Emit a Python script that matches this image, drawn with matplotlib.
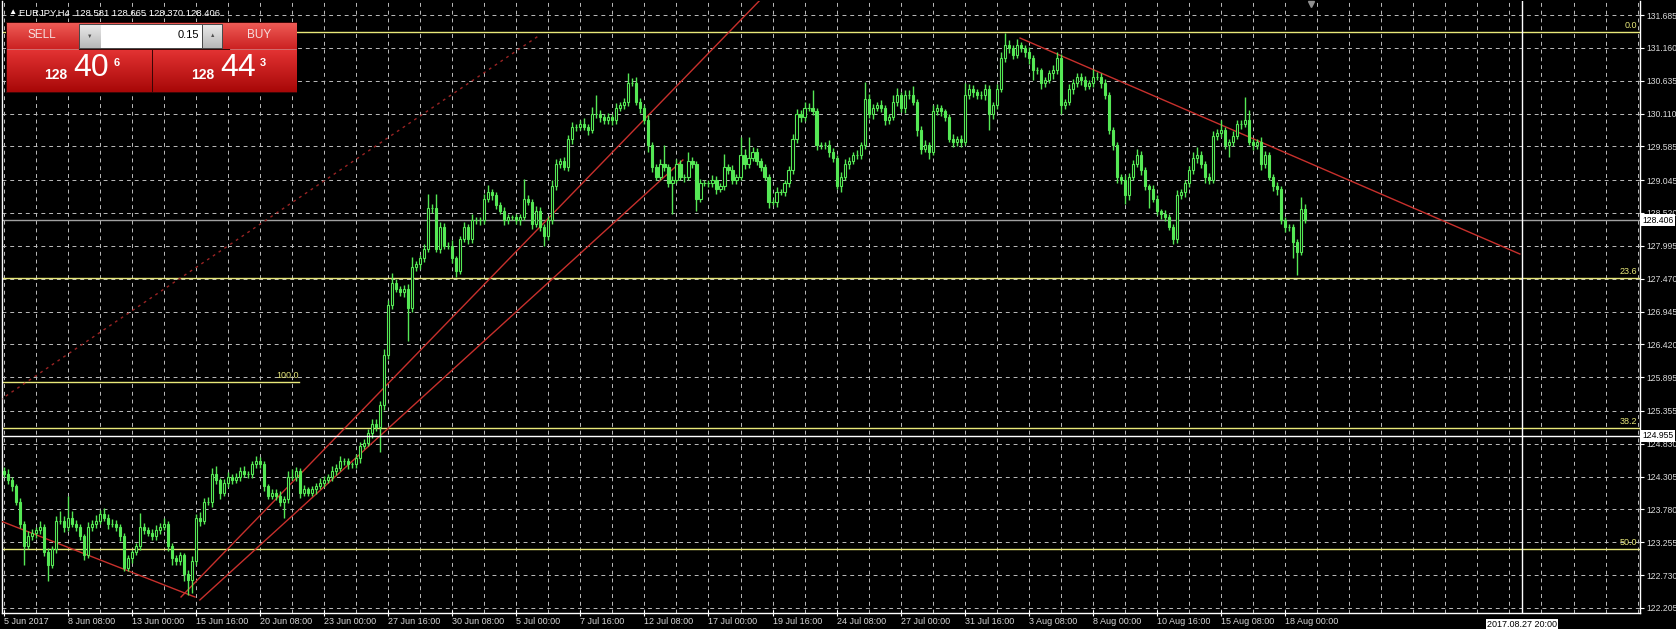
import numpy as np
import matplotlib.pyplot as plt
from matplotlib.transforms import blended_transform_factory

# EURJPY H4, one value per 4h bar (bar 0 = left edge of the chart)
first_open = 124.40
closes = [
    124.35, 124.25, 124.15, 123.90, 123.55, 123.20, 123.35, 123.40, 123.45, 123.50,
    123.10, 122.90, 123.15, 123.60, 123.60, 123.50, 123.65, 123.55, 123.50, 123.35,
    123.05, 123.50, 123.55, 123.60, 123.70, 123.65, 123.55, 123.55, 123.50, 123.35,
    122.85, 123.00, 123.10, 123.20, 123.50, 123.45, 123.40, 123.35, 123.45, 123.50,
    123.55, 123.20, 123.00, 122.95, 123.05, 122.75, 122.65, 122.95, 123.65, 123.60,
    123.90, 123.90, 124.35, 124.25, 124.05, 124.20, 124.30, 124.25, 124.30, 124.40,
    124.35, 124.35, 124.50, 124.55, 124.50, 124.15, 124.00, 124.05, 124.00, 123.90,
    123.95, 124.30, 124.30, 124.40, 124.05, 124.10, 124.05, 124.10, 124.15, 124.20,
    124.25, 124.30, 124.40, 124.45, 124.55, 124.55, 124.50, 124.50, 124.60, 124.80,
    124.85, 125.00, 125.15, 125.10, 125.45, 126.25, 127.05, 127.40, 127.30, 127.25,
    127.30, 127.00, 127.65, 127.70, 127.80, 127.95, 128.60, 128.60, 127.95, 128.30,
    128.00, 128.00, 127.80, 127.60, 128.10, 128.30, 128.10, 128.40, 128.40, 128.40,
    128.75, 128.85, 128.80, 128.65, 128.55, 128.40, 128.45, 128.45, 128.40, 128.45,
    128.75, 128.70, 128.35, 128.55, 128.30, 128.15, 128.40, 128.95, 129.30, 129.35,
    129.25, 129.70, 129.90, 129.90, 129.95, 129.90, 129.85, 130.10, 130.10, 130.05,
    130.00, 130.05, 130.00, 130.20, 130.25, 130.30, 130.60, 130.60, 130.30, 130.20,
    130.00, 129.60, 129.25, 129.10, 129.30, 129.25, 129.00, 129.05, 129.30, 129.10,
    129.10, 129.35, 129.30, 128.75, 129.00, 129.00, 129.00, 129.05, 128.90, 128.95,
    129.25, 129.20, 129.05, 129.10, 129.45, 129.30, 129.40, 129.50, 129.35, 129.25,
    129.10, 128.70, 128.70, 128.85, 128.85, 129.00, 129.20, 129.70, 130.10, 130.05,
    130.20, 130.20, 130.15, 129.60, 129.60, 129.60, 129.50, 129.40, 128.95, 129.10,
    129.30, 129.35, 129.45, 129.45, 129.60, 130.35, 130.10, 130.20, 130.25, 130.20,
    130.00, 130.05, 130.30, 130.40, 130.20, 130.40, 130.40, 130.30, 129.85, 129.55,
    129.60, 129.50, 130.15, 130.20, 130.15, 130.05, 129.70, 129.65, 129.70, 129.65,
    130.40, 130.50, 130.45, 130.40, 130.40, 130.50, 130.10, 130.25, 130.50, 131.00,
    131.20, 131.15, 131.05, 131.20, 131.15, 131.10, 131.00, 130.80, 130.80, 130.60,
    130.65, 130.75, 130.80, 131.00, 130.25, 130.30, 130.50, 130.60, 130.70, 130.65,
    130.55, 130.60, 130.70, 130.70, 130.60, 130.40, 129.85, 129.60, 129.10, 129.05,
    128.80, 129.10, 129.30, 129.45, 129.20, 128.95, 128.90, 128.75, 128.55, 128.50,
    128.45, 128.30, 128.10, 128.80, 128.85, 129.00, 129.20, 129.40, 129.45, 129.30,
    129.10, 129.05, 129.75, 129.80, 129.85, 129.60, 129.65, 129.75, 129.95, 129.95,
    130.00, 129.65, 129.60, 129.65, 129.30, 129.45, 129.10, 128.95, 128.90, 128.40,
    128.30, 128.30, 128.05, 127.90, 128.581, 128.406,
]
# upper / lower shadow length in hundredths of a yen
hi_ext = [
    6, 8, 5, 4, 6, 5, 8, 7, 5, 9,    4, 6, 5, 8, 16, 7, 35, 10, 6, 5,
    4, 8, 6, 9, 7, 10, 5, 8, 6, 4,   5, 6, 4, 5, 23, 6, 5, 7, 8, 6,
    10, 4, 5, 6, 5, 4, 6, 8, 5, 9,   6, 8, 10, 12, 4, 6, 8, 5, 7, 6,
    8, 5, 6, 9, 7, 5, 4, 6, 5, 7,    5, 10, 12, 6, 5, 7, 4, 6, 5, 8,
    6, 5, 7, 6, 8, 5, 6, 4, 7, 6,    5, 6, 8, 7, 6, 10, 8, 16, 6, 5,
    7, 9, 16, 6, 5, 8, 23, 6, 23, 7, 6, 5, 9, 4, 6, 8, 5, 10, 6, 5,
    8, 12, 6, 5, 4, 6, 5, 4, 6, 5,   32, 6, 5, 8, 6, 4, 7, 10, 8, 5,
    6, 7, 8, 5, 6, 9, 5, 12, 31, 6,  5, 7, 6, 8, 5, 6, 16, 8, 10, 6,
    5, 8, 5, 6, 8, 30, 5, 6, 9, 6,   5, 15, 6, 5, 6, 4, 5, 8, 6, 5,
    21, 6, 8, 5, 28, 10, 33, 8, 6, 5, 6, 5, 4, 8, 6, 5, 7, 9, 8, 6,
    10, 8, 28, 5, 6, 5, 8, 6, 5, 7,  8, 6, 5, 7, 6, 27, 8, 6, 5, 7,
    5, 6, 10, 12, 6, 8, 9, 15, 5, 6, 8, 5, 10, 6, 5, 4, 6, 8, 5, 6,
    20, 8, 6, 5, 7, 9, 6, 5, 8, 10,  20, 8, 6, 10, 5, 6, 8, 5, 6, 4,
    5, 6, 8, 10, 6, 5, 8, 7, 6, 5,   6, 5, 12, 8, 5, 6, 5, 4, 6, 5,
    8, 6, 7, 9, 6, 5, 4, 6, 5, 4,    6, 5, 4, 8, 6, 5, 7, 10, 12, 6,
    5, 6, 8, 6, 15, 5, 6, 8, 6, 5,   37, 16, 6, 5, 8, 6, 5, 4, 6, 5,
    6, 5, 4, 6, 19, 8,
]
lo_ext = [
    5, 6, 8, 5, 6, 30, 5, 6, 8, 7,   6, 27, 5, 6, 5, 8, 6, 5, 7, 6,
    8, 5, 6, 7, 5, 6, 8, 5, 6, 7,    5, 6, 8, 5, 6, 7, 5, 6, 5, 6,
    5, 8, 10, 6, 5, 12, 23, 20, 6, 8, 6, 5, 8, 6, 10, 5, 6, 7, 5, 6,
    5, 6, 7, 5, 6, 8, 6, 5, 7, 6,    25, 6, 5, 7, 8, 6, 5, 6, 7, 5,
    6, 5, 6, 7, 5, 6, 8, 5, 6, 7,    6, 5, 8, 6, 40, 8, 6, 7, 5, 6,
    7, 53, 6, 5, 7, 6, 5, 8, 6, 7,   5, 6, 8, 11, 6, 5, 8, 6, 5, 7,
    6, 5, 8, 6, 5, 7, 6, 5, 6, 8,    5, 6, 8, 6, 7, 15, 6, 5, 7, 6,
    5, 6, 8, 7, 5, 6, 8, 5, 6, 7,    6, 5, 7, 6, 5, 6, 7, 5, 6, 8,
    6, 10, 8, 6, 5, 6, 7, 50, 5, 6,  8, 5, 6, 20, 6, 5, 7, 6, 8, 5,
    6, 5, 7, 6, 5, 8, 6, 5, 7, 6,    5, 10, 6, 8, 5, 6, 7, 5, 6, 8,
    6, 5, 7, 8, 6, 5, 8, 6, 5, 10,   6, 8, 5, 6, 7, 5, 6, 8, 5, 6,
    8, 6, 5, 7, 6, 8, 5, 6, 10, 8,   6, 12, 5, 6, 8, 6, 5, 7, 6, 8,
    5, 6, 8, 6, 5, 7, 26, 8, 6, 5,   6, 8, 7, 5, 6, 8, 10, 15, 6, 10,
    6, 5, 8, 6, 15, 6, 5, 7, 6, 8,   6, 5, 7, 6, 8, 5, 6, 8, 10, 6,
    14, 8, 6, 5, 8, 6, 30, 5, 6, 8,  6, 5, 8, 6, 5, 7, 6, 5, 8, 6,
    10, 6, 5, 7, 6, 5, 19, 6, 5, 8,  6, 5, 8, 6, 10, 6, 5, 8, 10, 6,
    8, 6, 25, 37, 5, 4,
]
last_ohlc = ["128.581", "128.665", "128.370", "128.406"]
bid = 128.406

time_labels = ["5 Jun 2017", "8 Jun 08:00", "13 Jun 00:00", "15 Jun 16:00", "20 Jun 08:00",
               "23 Jun 00:00", "27 Jun 16:00", "30 Jun 08:00", "5 Jul 00:00", "7 Jul 16:00",
               "12 Jul 08:00", "17 Jul 00:00", "19 Jul 16:00", "24 Jul 08:00", "27 Jul 00:00",
               "31 Jul 16:00", "3 Aug 08:00", "8 Aug 00:00", "10 Aug 16:00", "15 Aug 08:00",
               "18 Aug 00:00"]
price_ticks = [131.685, 131.160, 130.635, 130.110, 129.585, 129.045, 128.520, 127.995,
               127.470, 126.945, 126.420, 125.895, 125.355, 124.830, 124.305, 123.780,
               123.255, 122.730, 122.205]

fib_levels = [131.413, 127.480, 125.083, 123.148]
fib_names = ["0.0", "23.6", "38.2", "50.0"]
fib100_price = 125.818
fib100_end = 73.8

# trend lines: (bar, price) anchors
trend_lines = [
    [(-0.9, 123.60), (47.8, 122.38)],
    [(44.3, 122.381), (188.9, 131.925)],
    [(49.0, 122.333), (169.6, 129.367)],
    [(253.8, 131.317), (378.6, 127.864)],
]
dotted_line = [(-0.9, 125.53), (133.9, 131.365)]

cross_bar = 379.1
cross_price = 124.955
cross_time = "2017.08.27 20:00"

plt.rcParams['font.family'] = ['Liberation Sans', 'DejaVu Sans']

GREEN = '#55e855'
FIBC = '#e8e87a'
REDL = '#c8302c'

W, H = 1676, 629
fig = plt.figure(figsize=(W / 100, H / 100), dpi=100, facecolor='black')
L, R, T, B = 2, 1640, 1, 613
ax = fig.add_axes([L / W, 1 - B / H, (R - L) / W, (B - T) / H], facecolor='black')
ax.set_xlim(-0.4, 408.6)
ax.set_ylim(122.125, 131.909)

c = np.array(closes)
o = np.r_[first_open, c[:-1]]
idx = np.arange(len(c))
top = np.maximum(o, c)
bot = np.minimum(o, c)
hi = top + np.array(hi_ext) / 100
lo = bot - np.array(lo_ext) / 100

# grid
ax.set_xticks(np.arange(0, 16 * len(time_labels), 16))
ax.set_xticks(np.arange(0, 409, 8), minor=True)
ax.set_xticklabels(time_labels, ha='left')
ax.set_yticks(price_ticks)
ax.set_yticklabels([f"{p:.3f}" for p in price_ticks])
ax.grid(True, which='both', color='#bcbcbc', lw=0.7, ls=(0, (4, 4)), zorder=0)
ax.set_axisbelow(True)

# horizontal objects
for lv in fib_levels:
    ax.axhline(lv, color=FIBC, lw=1, zorder=2)
tr = blended_transform_factory(ax.transAxes, ax.transData)
for lv, nm in zip(fib_levels, fib_names):
    ax.text(0.9985, lv + 0.03, nm, transform=tr, ha='right', va='bottom',
            color=FIBC, fontsize=6.5, zorder=6)
ax.plot([-0.4, fib100_end], [fib100_price, fib100_price], color=FIBC, lw=1, zorder=2)
ax.text(fib100_end, fib100_price + 0.03, "100.0", ha='right', va='bottom',
        color=FIBC, fontsize=6.5, zorder=6)

ax.axhline(bid, color='#a0a0a0', lw=1, zorder=2)

for ln in trend_lines:
    xs, ys = zip(*ln)
    ax.plot(xs, ys, color=REDL, lw=1, zorder=3)
xs, ys = zip(*dotted_line)
ax.plot(xs, ys, color='#9a2424', lw=1, ls=(0, (2, 3)), zorder=3)

# candles
ax.vlines(idx, lo, hi, color=GREEN, lw=1, zorder=4)
bull = c >= o
ax.bar(idx[bull], (c - o)[bull], bottom=o[bull], width=0.55, facecolor='black',
       edgecolor=GREEN, lw=0.8, zorder=5)
ax.bar(idx[~bull], (o - c)[~bull], bottom=c[~bull], width=0.55, facecolor=GREEN,
       edgecolor=GREEN, lw=0.8, zorder=5)

# crosshair
ax.axvline(cross_bar, color='white', lw=1, zorder=6)
ax.axhline(cross_price, color='white', lw=1, zorder=6)

# axes styling
for s in ['left', 'right', 'bottom']:
    ax.spines[s].set_color('white')
    ax.spines[s].set_linewidth(1)
ax.spines['top'].set_visible(False)
ax.yaxis.tick_right()
ax.tick_params(axis='y', colors='white', labelcolor='#d8d8d8', length=3, pad=1.5, labelsize=6.2)
ax.tick_params(axis='x', which='major', colors='white', labelcolor='#d8d8d8', length=4,
               direction='inout', pad=1, labelsize=6.5)
ax.tick_params(axis='x', which='minor', length=0)

# value boxes on the axes
box = dict(facecolor='white', edgecolor='none', pad=1)
trr = blended_transform_factory(ax.transAxes, ax.transData)
ax.text(1.0015, bid, f"{bid:.3f}", transform=trr, ha='left', va='center', fontsize=6.2,
        color='black', bbox=box, zorder=10, clip_on=False)
ax.text(1.0015, cross_price, f"{cross_price:.3f}", transform=trr, ha='left', va='center',
        fontsize=6.2, color='black', bbox=box, zorder=10, clip_on=False)
trb = blended_transform_factory(ax.transData, ax.transAxes)
ax.text(cross_bar, -0.012, cross_time, transform=trb, ha='center', va='top', fontsize=6.5,
        color='black', bbox=box, zorder=10, clip_on=False)

# overlay: header and one-click trading panel (screen pixels)
ov = fig.add_axes([0, 0, 1, 1], facecolor='none', zorder=20)
ov.set_xlim(0, W)
ov.set_ylim(H, 0)
ov.axis('off')

ov.text(8, 13, "\u25b2", color='white', fontsize=6, va='center', ha='left')
ov.text(19, 13, "EURJPY,H4  " + " ".join(last_ohlc), color='white', fontsize=6.8,
        va='center', ha='left')
ov.plot([1311], [4], marker='v', color='#909090', ms=4)

def grad(x0, x1, y0, y1, c0, c1):
    g = np.linspace(0, 1, 32)[:, None, None]
    a = np.array(plt.matplotlib.colors.to_rgb(c0))
    b = np.array(plt.matplotlib.colors.to_rgb(c1))
    img = a * (1 - g) + b * g
    ov.imshow(img, extent=[x0, x1, y1, y0], aspect='auto', interpolation='bilinear', zorder=2)

ov.add_patch(plt.Rectangle((6, 22), 291, 71, facecolor='#3a0606', edgecolor='none', zorder=1))
grad(7, 296, 23, 49, '#ee5a55', '#cc2222')
grad(7, 151, 50, 92, '#e23232', '#a80808')
grad(153, 296, 50, 92, '#e23232', '#a80808')
ov.plot([7, 78], [48.5, 48.5], color='#f08080', lw=0.6, zorder=3)
ov.plot([230, 296], [48.5, 48.5], color='#f08080', lw=0.6, zorder=3)
ov.add_patch(plt.Rectangle((79, 24), 144, 25, facecolor='#4a4a4a', edgecolor='none', zorder=3))
grad(80, 100, 25, 48, '#e8e8e8', '#b8b8b8')
grad(203, 222, 25, 48, '#e8e8e8', '#b8b8b8')
for im in ov.images[-2:]:
    im.set_zorder(4)
ov.add_patch(plt.Rectangle((101, 25), 101, 23, facecolor='white', edgecolor='none', zorder=4))
ov.text(90, 36.5, "\u25bc", fontsize=4, color='#505050', ha='center', va='center', zorder=5)
ov.text(212.5, 35.5, "\u25b2", fontsize=4, color='#505050', ha='center', va='center', zorder=5)
ov.text(199, 35, "0.15", fontsize=8, color='black', ha='right', va='center', zorder=5)
ov.text(42, 35, "SELL", fontsize=8.5, color='#f6dede', ha='center', va='center', zorder=5)
ov.text(259, 35, "BUY", fontsize=8.5, color='#f6dede', ha='center', va='center', zorder=5)
ov.text(56, 75, "128", fontsize=10, color='white', weight='bold', ha='center', va='center', zorder=5)
ov.text(91, 68, "40", fontsize=23, color='white', ha='center', va='center', zorder=5)
ov.text(117, 63, "6", fontsize=8, color='white', weight='bold', ha='center', va='center', zorder=5)
ov.text(203, 75, "128", fontsize=10, color='white', weight='bold', ha='center', va='center', zorder=5)
ov.text(238, 68, "44", fontsize=23, color='white', ha='center', va='center', zorder=5)
ov.text(263, 63, "3", fontsize=8, color='white', weight='bold', ha='center', va='center', zorder=5)

fig.savefig('out.png', dpi=100, facecolor='black')
